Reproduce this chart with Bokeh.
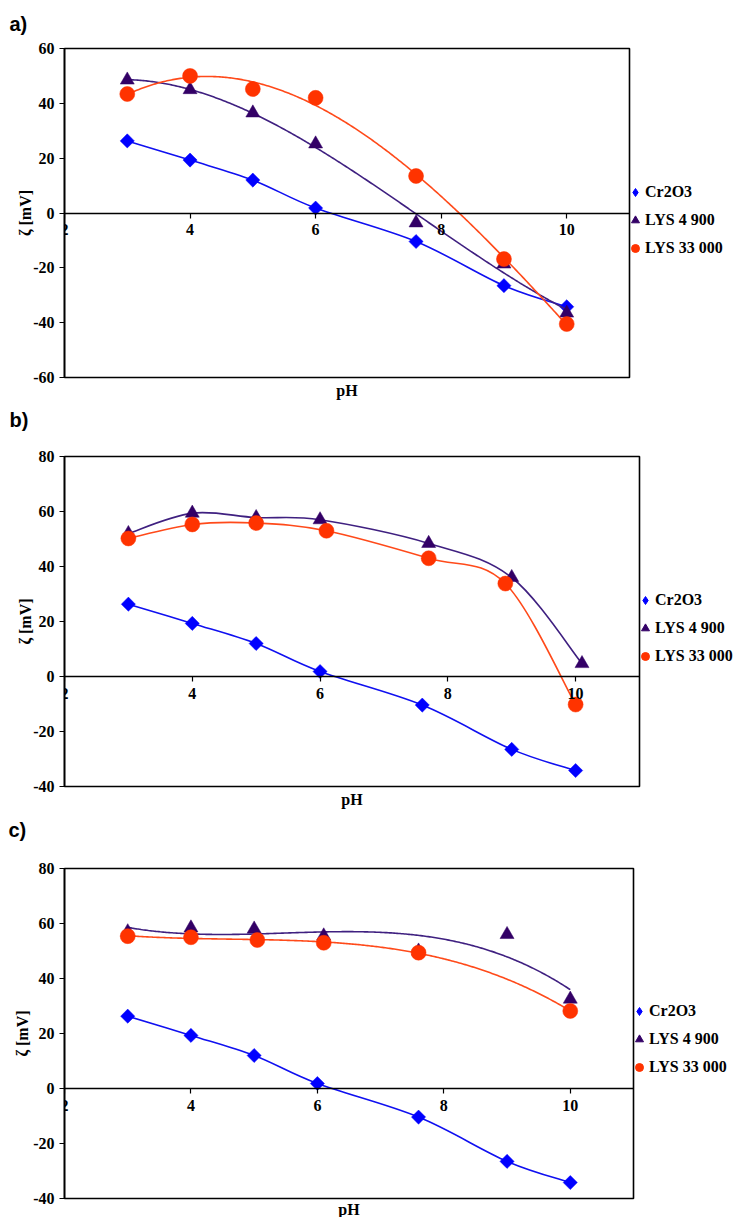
import numpy as np
from bokeh.plotting import figure
from bokeh.models import Legend, LegendItem, Title, FixedTicker, ColumnDataSource
from bokeh.layouts import column
from bokeh.embed import file_html
from bokeh.resources import INLINE

# ---------------- data ----------------
series_names = ["Cr2O3", "LYS 4 900", "LYS 33 000"]
x_ticks = [2, 4, 6, 8, 10]
a_y_ticks = [-60, -40, -20, 0, 20, 40, 60]
bc_y_ticks = [-40, -20, 0, 20, 40, 60, 80]

ph_cr2o3 = [3, 4, 5, 6, 7.6, 9, 10]
zeta_cr2o3 = [26.3, 19.3, 12.0, 1.8, -10.4, -26.5, -34.2]

a_ph_lys4900 = [3, 4, 5, 6, 7.6, 9, 10]
a_zeta_lys4900 = [48.5, 45.0, 36.5, 25.2, -3.6, -18.6, -36.5]
a_ph_lys33000 = [3, 4, 5, 6, 7.6, 9, 10]
a_zeta_lys33000 = [43.4, 50.0, 45.2, 42.0, 13.5, -16.8, -40.5]

b_ph_lys4900 = [3, 4, 5, 6, 7.7, 9, 10.1]
b_zeta_lys4900 = [52.0, 59.4, 57.8, 57.0, 48.4, 36.0, 4.7]
b_ph_lys33000 = [3, 4, 5, 6.1, 7.7, 8.9, 10]
b_zeta_lys33000 = [50.2, 55.3, 55.8, 53.0, 43.0, 33.8, -10.2]

c_ph_lys4900 = [3, 4, 5, 6.1, 7.6, 9, 10]
c_zeta_lys4900 = [57.0, 58.4, 58.0, 55.5, 50.0, 56.0, 32.5]
c_ph_lys33000 = [3, 4, 5.05, 6.1, 7.6, 10]
c_zeta_lys33000 = [55.4, 55.0, 54.0, 53.0, 49.4, 28.2]

# ---------------- styles ----------------
SERIF = "Liberation Serif"
SANS = "Liberation Sans"
styles = {
    "Cr2O3": dict(marker="square", angle=np.pi / 4, size=10, color="#0000FF",
                  line="#1010F0", legend_marker="diamond"),
    "LYS 4 900": dict(marker="triangle", angle=0, size=14, color="#330066",
                      line="#3F2080", legend_marker="triangle"),
    "LYS 33 000": dict(marker="circle", angle=0, size=15, color="#FF3300",
                       line="#FF4A1A", legend_marker="circle"),
}
X_RANGE = (2, 11)


def smooth_segments(xs, ys):
    n = len(xs)
    d = dict(x0=[], y0=[], x1=[], y1=[], cx0=[], cy0=[], cx1=[], cy1=[])
    for i in range(n - 1):
        ip, inx = max(i - 1, 0), min(i + 2, n - 1)
        d["x0"].append(xs[i]); d["y0"].append(ys[i])
        d["x1"].append(xs[i + 1]); d["y1"].append(ys[i + 1])
        d["cx0"].append(xs[i] + (xs[i + 1] - xs[ip]) / 6)
        d["cy0"].append(ys[i] + (ys[i + 1] - ys[ip]) / 6)
        d["cx1"].append(xs[i + 1] - (xs[inx] - xs[i]) / 6)
        d["cy1"].append(ys[i + 1] - (ys[inx] - ys[i]) / 6)
    return d


def tag_title(text, left, standoff):
    return Title(text=text, align="left", offset=-left, standoff=standoff,
                 vertical_align="top", text_font=SANS, text_font_style="bold",
                 text_font_size="20px", text_color="black")


def make_panel(y_range, y_ticks, geom, series, ph_standoff, legend_pos, ylab_standoff,
               top_tag=None, next_tag=None):
    left, top, fw, fh, bottom, right = geom
    p = figure(frame_width=fw, frame_height=fh, x_range=X_RANGE, y_range=y_range,
               output_backend="svg", toolbar_location=None,
               min_border_left=left, min_border_right=right,
               min_border_top=top, min_border_bottom=bottom,
               background_fill_color="white", border_fill_color="white")
    p.xgrid.visible = False
    p.ygrid.visible = False
    p.outline_line_color = "black"
    p.outline_line_width = 1.6

    # y axis
    ya = p.yaxis[0]
    ya.ticker = FixedTicker(ticks=y_ticks)
    ya.major_label_overrides = {t: str(t) for t in y_ticks}
    ya.major_tick_out = 5
    ya.major_tick_in = 0
    ya.minor_tick_line_color = None
    ya.axis_line_width = 1.6
    ya.major_tick_line_width = 1.2
    ya.major_label_text_font = SERIF
    ya.major_label_text_font_style = "bold"
    ya.major_label_text_font_size = "16px"
    ya.major_label_text_color = "black"
    ya.major_label_standoff = 5
    ya.axis_label = "ζ [mV]"
    ya.axis_label_text_font = SERIF
    ya.axis_label_text_font_style = "bold"
    ya.axis_label_text_font_size = "16px"
    ya.axis_label_text_color = "black"
    ya.axis_label_standoff = ylab_standoff

    # x axis at zeta = 0
    xa = p.xaxis[0]
    xa.fixed_location = 0
    xa.ticker = FixedTicker(ticks=x_ticks)
    xa.major_tick_out = 5
    xa.major_tick_in = 0
    xa.minor_tick_line_color = None
    xa.axis_line_width = 1.6
    xa.major_tick_line_width = 1.2
    xa.major_label_text_font = SERIF
    xa.major_label_text_font_style = "bold"
    xa.major_label_text_font_size = "16px"
    xa.major_label_text_color = "black"
    xa.major_label_standoff = 6

    items = []
    for name, xs, ys, curve in series:
        st = styles[name]
        if curve == "smooth":
            src = ColumnDataSource(smooth_segments(xs, ys))
            p.bezier(x0="x0", y0="y0", x1="x1", y1="y1", cx0="cx0", cy0="cy0",
                     cx1="cx1", cy1="cy1", source=src, line_color=st["line"], line_width=1.6)
        else:
            coef = np.polyfit(xs, ys, curve)
            xx = np.linspace(min(xs), max(xs), 300)
            p.line(xx, np.polyval(coef, xx), line_color=st["line"], line_width=1.6)
        p.scatter(xs, ys, marker=st["marker"], angle=st["angle"], size=st["size"],
                  fill_color=st["color"], line_color=st["color"], line_width=0.5)
        # legend-only glyph (no visible point in the plot area)
        lr = p.scatter([np.nan], [np.nan], marker=st["legend_marker"],
                       fill_color=st["color"], line_color=st["color"])
        items.append(LegendItem(label=name, renderers=[lr]))

    legend = Legend(items=items, location=legend_pos, orientation="vertical",
                    padding=0, margin=0, spacing=8, glyph_width=20, glyph_height=20,
                    label_height=20, label_standoff=-3,
                    label_text_font=SERIF, label_text_font_style="bold",
                    label_text_font_size="16px", label_text_color="black",
                    border_line_color=None, background_fill_alpha=0)
    p.add_layout(legend, "right")

    if top_tag is not None:
        p.add_layout(tag_title(top_tag[0], left, top_tag[1]), "above")

    p.add_layout(Title(text="pH", align="center", standoff=ph_standoff,
                       text_font=SERIF, text_font_style="bold", text_font_size="16px",
                       text_color="black"), "below")

    # tag of the following panel sits in this panel's bottom margin
    if next_tag is not None:
        p.add_layout(tag_title(next_tag[0], left, next_tag[1]), "below")
    return p


pa = make_panel((-60, 60), a_y_ticks, (55, 48, 565, 329, 66, 106), [
    ("Cr2O3", ph_cr2o3, zeta_cr2o3, "smooth"),
    ("LYS 4 900", a_ph_lys4900, a_zeta_lys4900, 3),
    ("LYS 33 000", a_ph_lys33000, a_zeta_lys33000, 3),
], ph_standoff=5, legend_pos=(-4, 119), ylab_standoff=-4,
    top_tag=("a)", 23), next_tag=("b)", 14))

pb = make_panel((-40, 80), bc_y_ticks, (56, 13, 575, 330, 70, 95), [
    ("Cr2O3", ph_cr2o3, zeta_cr2o3, "smooth"),
    ("LYS 4 900", b_ph_lys4900, b_zeta_lys4900, "smooth"),
    ("LYS 33 000", b_ph_lys33000, b_zeta_lys33000, "smooth"),
], ph_standoff=4, legend_pos=(-4, 120), ylab_standoff=-4,
    next_tag=("c)", 19))

pc = make_panel((-40, 80), bc_y_ticks, (64, 12, 569, 330, 17, 93), [
    ("Cr2O3", ph_cr2o3, zeta_cr2o3, "smooth"),
    ("LYS 4 900", c_ph_lys4900, c_zeta_lys4900, 3),
    ("LYS 33 000", c_ph_lys33000, c_zeta_lys33000, 3),
], ph_standoff=0, legend_pos=(-4, 121), ylab_standoff=-1)

layout = column(pa, pb, pc, spacing=0)
open("out.html", "w").write(file_html(layout, INLINE))
